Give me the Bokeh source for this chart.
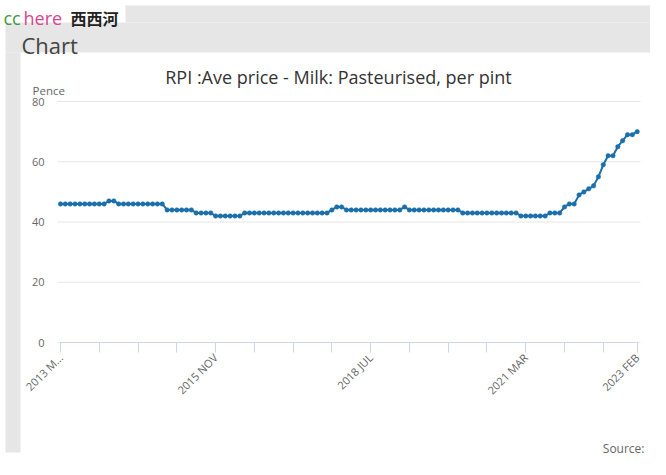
import math
from bokeh.plotting import figure
from bokeh.models import Range1d, FixedTicker, Label, BoxAnnotation, LinearAxis
from bokeh.embed import file_html
from bokeh.resources import INLINE

# ---------------- data ----------------
month_names = ["JAN", "FEB", "MAR", "APR", "MAY", "JUN",
               "JUL", "AUG", "SEP", "OCT", "NOV", "DEC"]
start_year, start_month = 2013, 3

# RPI average price, milk pasteurised per pint (pence), Mar 2013 .. Feb 2023
prices = [
    46, 46, 46, 46, 46, 46, 46, 46, 46, 46,
    47, 47,
    46, 46, 46, 46, 46, 46, 46, 46, 46, 46,
    44, 44, 44, 44, 44, 44,
    43, 43, 43, 43,
    42, 42, 42, 42, 42, 42,
    43, 43, 43, 43, 43, 43, 43, 43, 43, 43, 43, 43, 43, 43, 43, 43, 43, 43,
    44, 45, 45,
    44, 44, 44, 44, 44, 44, 44, 44, 44, 44, 44, 44,
    45,
    44, 44, 44, 44, 44, 44, 44, 44, 44, 44, 44,
    43, 43, 43, 43, 43, 43, 43, 43, 43, 43, 43, 43,
    42, 42, 42, 42, 42, 42,
    43, 43, 43,
    45, 46, 46, 49, 50, 51, 52, 55, 59, 62, 62, 65, 67, 69, 69, 70,
]
months = []
for i in range(len(prices)):
    m = start_month - 1 + i
    months.append(f"{start_year + m // 12} {month_names[m % 12]}")

x_ticks = [0, 8, 16, 24, 32, 40, 48, 56, 64, 72, 80, 88, 96, 104, 112, 119]
x_labelled = [0, 32, 64, 96, 119]
y_ticks = [0, 20, 40, 60, 80]

title_text = "RPI :Ave price - Milk: Pasteurised, per pint"
y_unit = "Pence"
source_text = "Source:"

# ---------------- layout (canvas pixels) ----------------
W, H = 650, 459
GRAY = "#e6e6e6"
BLUE = "#1b6fab"
FONT = "Open Sans"
n = len(prices)

PX_FIRST, PX_LAST = 60.0, 636.7     # canvas x of first / last month
PY_ZERO, PY_TOP = 342.0, 101.0      # canvas y of 0 and 80
sx = (PX_LAST - PX_FIRST) / (n - 1)
sy = (PY_ZERO - PY_TOP) / y_ticks[-1]
x_start = -PX_FIRST / sx
x_end = (n - 1) + (W - PX_LAST) / sx
y_start = -(H - PY_ZERO) / sy
y_end = y_ticks[-1] + PY_TOP / sy

def to_x(px):
    return (px - PX_FIRST) / sx

idx = list(range(n))

p = figure(width=W, height=H, output_backend="svg", toolbar_location=None,
           x_range=Range1d(x_start, x_end), y_range=Range1d(y_start, y_end),
           x_axis_location=None, y_axis_location=None,
           min_border=0, min_border_left=0, min_border_right=0,
           min_border_top=0, min_border_bottom=0,
           background_fill_color="white", border_fill_color="white",
           outline_line_color=None)
p.xgrid.visible = False
p.ygrid.visible = False

# page decoration
def box(l, r, t, b, color):
    p.add_layout(BoxAnnotation(left=l, right=r, top=t, bottom=b,
                               left_units="canvas", right_units="canvas",
                               top_units="canvas", bottom_units="canvas",
                               fill_color=color, fill_alpha=1.0,
                               line_color=None, level="underlay"))

box(125, W, 5, 22, GRAY)
box(5, W, 22, 52, GRAY)
box(5, 20, 52, 452, GRAY)

# horizontal grid lines
gx0, gx1 = to_x(57), to_x(640)
p.segment(x0=[gx0] * len(y_ticks), y0=y_ticks, x1=[gx1] * len(y_ticks),
          y1=y_ticks, line_color=GRAY, line_width=1)

# axes
xaxis = LinearAxis(fixed_location=0, bounds=(0, n - 1),
                   ticker=FixedTicker(ticks=x_ticks))
overrides = {}
for t in x_ticks:
    overrides[t] = ""
for t in x_labelled:
    overrides[t] = months[t]
overrides[0] = months[0][:6] + "\u2026"
xaxis.major_label_overrides = overrides
xaxis.major_label_orientation = math.pi / 4
xaxis.major_label_text_font = FONT
xaxis.major_label_text_font_size = "11px"
xaxis.major_label_text_color = "#666666"
xaxis.axis_line_color = "#ccd6eb"
xaxis.major_tick_line_color = "#ccd6eb"
xaxis.major_tick_out = 10
xaxis.major_tick_in = 0
xaxis.minor_tick_line_color = None
xaxis.major_label_standoff = 3
p.add_layout(xaxis, "below")

yaxis = LinearAxis(fixed_location=to_x(58), ticker=FixedTicker(ticks=y_ticks))
yaxis.axis_line_color = None
yaxis.major_tick_line_color = None
yaxis.minor_tick_line_color = None
yaxis.major_tick_out = 0
yaxis.major_tick_in = 0
yaxis.major_label_standoff = 14
yaxis.major_label_text_font = FONT
yaxis.major_label_text_font_size = "11px"
yaxis.major_label_text_color = "#666666"
p.add_layout(yaxis, "left")

# series
p.line(idx, prices, line_width=2, line_color=BLUE)
p.scatter(idx, prices, size=4.5, fill_color=BLUE, line_color=BLUE, line_width=0.5)

def text(x, y, s, size, color, align="left", font=FONT, style="normal"):
    p.add_layout(Label(x=x, y=y, x_units="canvas", y_units="canvas", text=s,
                       text_font=font, text_font_size=size, text_color=color,
                       text_align=align, text_baseline="alphabetic",
                       text_font_style=style))

text(3, 17, "cc", "18px", "#3f9b3f")
text(23, 17, "here", "18px", "#d9448f")
text(70, 17, "西西河", "16px", "#222222", font="Noto Sans CJK SC", style="bold")
text(21, 44, "Chart", "22px", "#444444")
text(338, 76, title_text, "18px", "#333333", align="center")
text(32, 90, y_unit, "11.5px", "#666666")
text(644, 448, source_text, "12px", "#666666", align="right")

open("out.html", "w").write(file_html(p, INLINE))
